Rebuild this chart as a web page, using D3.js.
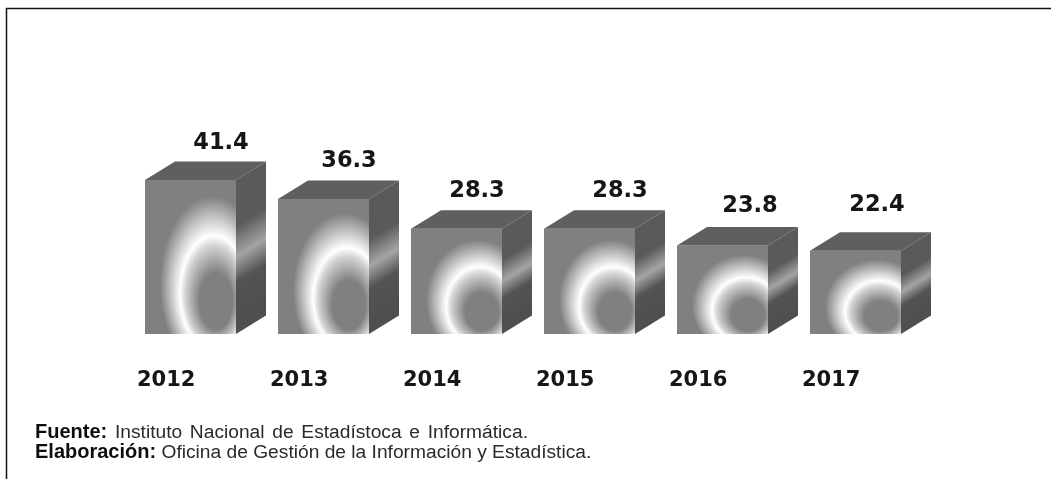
<!DOCTYPE html>
<html>
<head>
<meta charset="utf-8">
<script src="https://cdn.jsdelivr.net/npm/d3@7"></script>
<style>
html, body { margin: 0; padding: 0; background: #fff; }
svg { display: block; }
.value { font: bold 22.5px "DejaVu Sans"; fill: #141414; text-anchor: middle; }
.year { font: bold 21px "DejaVu Sans"; fill: #141414; }
.note { font: 19.2px "Liberation Sans"; fill: #2a2a2a; }
.note tspan.head { font-weight: bold; font-size: 20px; fill: #111; }
</style>
</head>
<body>
<div id="chart"></div>
<script>
const years = ['2012', '2013', '2014', '2015', '2016', '2017'];
const values = [41.4, 36.3, 28.3, 28.3, 23.8, 22.4];
// the value labels were placed by hand in the original, so each has its own nudge
const labelNudgeX = [0.5, -4.5, -9.5, 0.5, -2.5, -8.5];
const labelNudgeY = [0, -1, -1, -1, -2, -9];
const notes = [
	['Fuente:', ' Instituto Nacional de Estadístoca e Informática.'],
	['Elaboración:', ' Oficina de Gestión de la Información y Estadística.']
];

let WIDTH = 1051;
let HEIGHT = 479;
let DEPTH_X = 30;
let DEPTH_Y = 18.5;

let svg = d3.select('#chart').append('svg')
	.attr('width', WIDTH)
	.attr('height', HEIGHT);

let defs = svg.append('defs');

// front face: ring of light, same gradient stretched to each bar
// focal point sits low and right, which is what pushes the grey blob off centre
let ring = defs.append('radialGradient')
	.attr('id', 'front')
	.attr('cx', 0.735).attr('cy', 0.675).attr('r', 0.57)
	.attr('fx', 0.8).attr('fy', 0.84);
[[0, '#808080'], [0.32, '#808080'], [0.56, '#d2d2d2'], [0.65, '#ffffff'], [0.72, '#e6e6e6'], [1, '#808080']].forEach((s) => {
	ring.append('stop').attr('offset', s[0]).attr('stop-color', s[1]);
});

let band = defs.append('linearGradient')
	.attr('id', 'side')
	.attr('x1', 0).attr('y1', 0).attr('x2', 0).attr('y2', 1);
[[0, '#5a5a5a'], [0.3, '#5a5a5a'], [0.5, '#a4a4a4'], [0.67, '#525252'], [1, '#4f4f4f']].forEach((s) => {
	band.append('stop').attr('offset', s[0]).attr('stop-color', s[1]);
});

// slight softening, the reference is a compressed copy of a slide
defs.append('filter')
	.attr('id', 'soft')
	.append('feGaussianBlur')
	.attr('stdDeviation', 0.45);

// frame only has a top and a left edge, the rest was cropped away
svg.append('path')
	.attr('d', `M${WIDTH},8.5H6.5V${HEIGHT}`)
	.attr('fill', 'none')
	.attr('stroke', '#111')
	.attr('stroke-width', 1.5);

let x = d3.scaleBand()
	.domain(years)
	.range([145, 901])
	.paddingInner(42 / 133)
	.paddingOuter(0)
	.align(0);

let y = d3.scaleLinear()
	.domain([0, 41.4])
	.range([334, 180]);

let w = x.bandwidth();

let chart = svg.append('g').attr('filter', 'url(#soft)');

let bars = chart.selectAll('.bar')
	.data(years.map((d, i) => ({year: d, value: values[i], i: i})))
	.enter().append('g')
	.attr('class', 'bar')
	.attr('transform', (d) => `translate(${x(d.year)},0)`);

bars.append('rect')
	.attr('x', 0)
	.attr('y', (d) => y(d.value))
	.attr('width', w)
	.attr('height', (d) => y(0) - y(d.value))
	.attr('fill', 'url(#front)');

bars.append('path')
	.attr('d', (d) => {
		let top = y(d.value);
		return `M0,${top}L${DEPTH_X},${top - DEPTH_Y}H${w + DEPTH_X}L${w},${top}Z`;
	})
	.attr('fill', '#5f5f5f');

// side face is a plain rect sheared upward, so the light band runs diagonally
bars.append('rect')
	.attr('x', 0)
	.attr('y', 0)
	.attr('width', DEPTH_X)
	.attr('height', (d) => y(0) - y(d.value))
	.attr('transform', (d) => `matrix(1,${-DEPTH_Y / DEPTH_X},0,1,${w},${y(d.value)})`)
	.attr('fill', 'url(#side)');

bars.append('text')
	.attr('class', 'value')
	.attr('x', (d) => w / 2 + DEPTH_X + labelNudgeX[d.i])
	.attr('y', (d) => y(d.value) - 31 + labelNudgeY[d.i])
	.text((d) => d.value.toFixed(1));

bars.append('text')
	.attr('class', 'year')
	.attr('x', -8)
	.attr('y', 386)
	.text((d) => d.year);

let note = chart.selectAll('.note')
	.data(notes)
	.enter().append('text')
	.attr('class', 'note')
	.attr('x', 35)
	.attr('y', (d, i) => 438 + i * 20)
	.attr('word-spacing', (d, i) => i === 0 ? 2.4 : 0);

note.append('tspan').attr('class', 'head').text((d) => d[0]);
note.append('tspan').text((d) => d[1]);
</script>
</body>
</html>
